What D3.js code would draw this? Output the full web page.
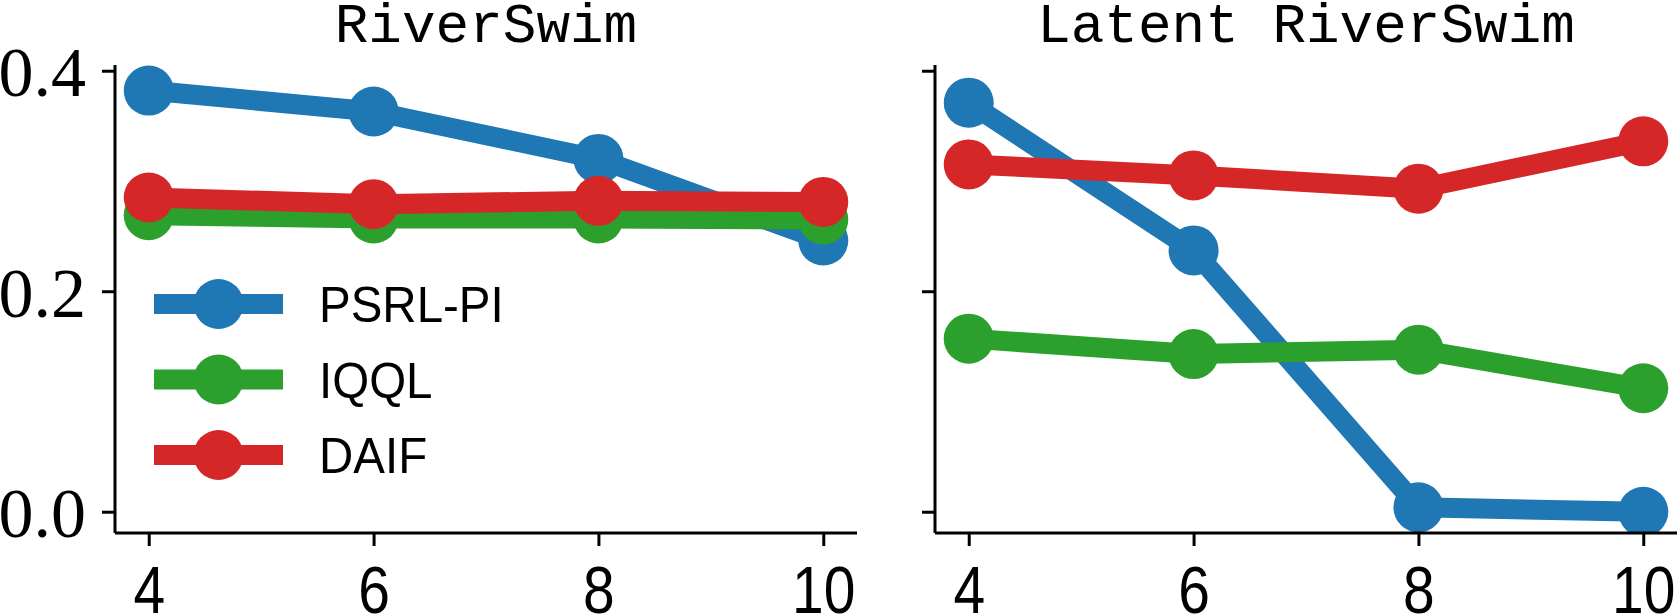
<!DOCTYPE html>
<html lang="en">
<head>
<meta charset="UTF-8">
<title>RiverSwim</title>
<style>
body { margin: 0; background: #fff; }
.title { font-family: "Liberation Mono", "DejaVu Sans Mono", monospace; font-size: 56px; }
.ytick text { font-family: "Liberation Serif", "DejaVu Serif", serif; font-size: 70px; }
.xtick text, .legend text { font-family: "Liberation Sans", sans-serif; }
.xtick text { font-size: 67px; }
.legend text { font-size: 50px; }
</style>
</head>
<body>
<div id="chart"></div>
<script src="https://cdnjs.cloudflare.com/ajax/libs/d3/7.8.5/d3.min.js"></script>
<script>
// values
let xs = [4, 6, 8, 10];
let yTicks = [0.0, 0.2, 0.4];
let names = ["PSRL-PI", "IQQL", "DAIF"];
let colors = ["#1f77b4", "#2ca02c", "#d62728"];
let titles = ["RiverSwim", "Latent RiverSwim"];

let riverPsrl = [0.382, 0.363, 0.320, 0.246];
let riverIqql = [0.269, 0.266, 0.266, 0.265];
let riverDaif = [0.285, 0.279, 0.282, 0.281];

let latentPsrl = [0.371, 0.237, 0.004, 0.000];
let latentIqql = [0.157, 0.143, 0.147, 0.112];
let latentDaif = [0.315, 0.305, 0.293, 0.336];

let panels = [
    [riverPsrl, riverIqql, riverDaif],
    [latentPsrl, latentIqql, latentDaif]
];

let W = 1677, H = 616;
let panelLeft = [115, 935];
let panelWidth = 742;
let plotTop = 65, plotBottom = 533;
let lineW = 20, markR = 25;

let svg = d3.select("#chart").append("svg")
    .attr("width", W)
    .attr("height", H);

let y = d3.scaleLinear().domain([-0.0193, 0.4052]).range([plotBottom, plotTop]);

panels.forEach((series, p) => {
    let x0 = panelLeft[p];
    let x = d3.scaleLinear().domain([3.7, 10.3]).range([x0, x0 + panelWidth]);
    let g = svg.append("g");

    let clipId = "clip" + p;
    svg.append("defs").append("clipPath").attr("id", clipId)
        .append("rect")
        .attr("x", x0).attr("y", plotTop)
        .attr("width", panelWidth).attr("height", plotBottom - plotTop);

    let plot = g.append("g").attr("clip-path", "url(#" + clipId + ")");
    let line = d3.line().x((d, i) => x(xs[i])).y(d => y(d));

    series.forEach((vals, s) => {
        plot.append("path")
            .attr("d", line(vals))
            .attr("fill", "none")
            .attr("stroke", colors[s])
            .attr("stroke-width", lineW)
            .attr("stroke-linejoin", "round");
        plot.selectAll(null)
            .data(vals)
            .enter().append("circle")
            .attr("cx", (d, i) => x(xs[i]))
            .attr("cy", d => y(d))
            .attr("r", markR)
            .attr("fill", colors[s]);
    });

    // axes, left + bottom spines only
    let xAxis = g.append("g")
        .attr("class", "xtick")
        .attr("transform", "translate(0," + plotBottom + ")")
        .call(d3.axisBottom(x).tickValues(xs).tickSize(13).tickFormat(d3.format("d")));
    let yAxis = g.append("g")
        .attr("class", "ytick")
        .attr("transform", "translate(" + x0 + ",0)")
        .call(d3.axisLeft(y).tickValues(yTicks).tickSize(13).tickPadding(16)
            .tickFormat(p === 0 ? d3.format(".1f") : ""));

    [xAxis, yAxis].forEach(a => {
        a.select(".domain").attr("stroke", "#000").attr("stroke-width", 3)
            .attr("d", a === xAxis
                ? "M" + x0 + ",0H" + (x0 + panelWidth)
                : "M0," + plotBottom + "V" + plotTop);
        a.selectAll(".tick line").attr("stroke", "#000").attr("stroke-width", 3);
        a.selectAll(".tick text").attr("fill", "#000").attr("font-family", null).attr("font-size", null);
    });
    // narrow sans digits, like the LaTeX sans in the original
    xAxis.selectAll(".tick text").attr("dy", null).attr("y", 0)
        .attr("transform", "translate(0,80) scale(0.85,1)");
    yAxis.selectAll(".tick text").attr("dy", null).attr("y", 25);

    g.append("text")
        .attr("class", "title")
        .attr("x", x0 + panelWidth / 2)
        .attr("y", 42)
        .attr("text-anchor", "middle")
        .text(titles[p]);
});

// legend in the first panel
let legend = svg.append("g").attr("class", "legend");
let legY = d3.scalePoint().domain(names).range([304, 455]);
names.forEach((n, i) => {
    let row = legend.append("g").attr("transform", "translate(0," + legY(n) + ")");
    row.append("line")
        .attr("x1", 154).attr("x2", 283)
        .attr("stroke", colors[i]).attr("stroke-width", lineW);
    row.append("circle")
        .attr("cx", 218.5).attr("r", markR)
        .attr("fill", colors[i]);
    row.append("text")
        .attr("transform", "translate(319,18) scale(0.95,1)")
        .text(n);
});
</script>
</body>
</html>
